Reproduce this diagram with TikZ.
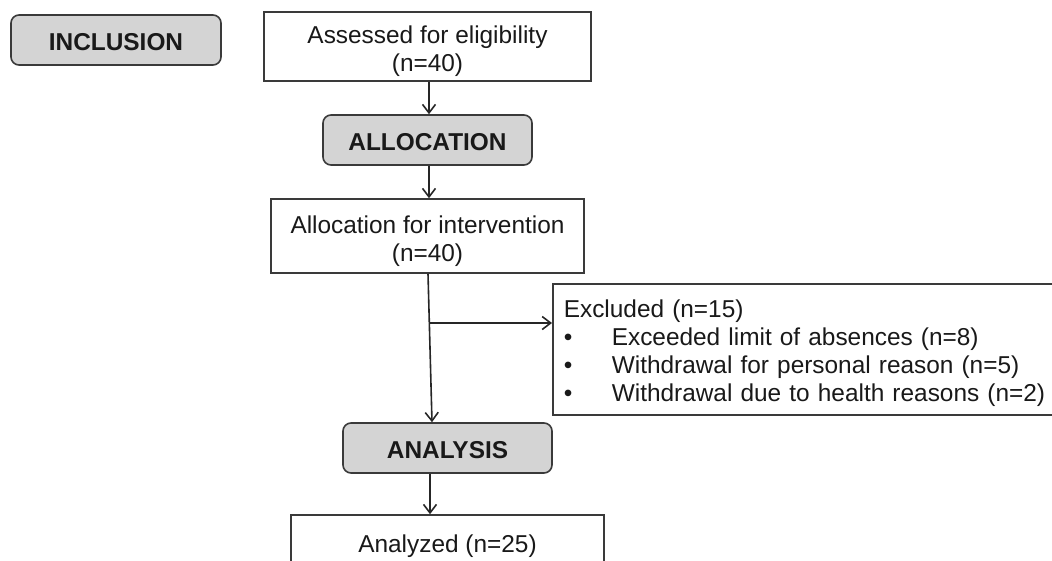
\documentclass[tikz,border=0pt]{standalone}
\usepackage{fontspec}
\setmainfont{Liberation Sans}
\usetikzlibrary{arrows.meta}
\definecolor{boxgray}{HTML}{D4D4D4}
\definecolor{edgegray}{HTML}{3A3A3A}
\newcommand{\topstrut}[1]{\rule{0pt}{#1}}
\begin{document}
\begin{tikzpicture}[x=1pt,y=-1pt,
  base/.style={draw=edgegray, line width=1.6pt, inner sep=0pt, align=center,
    font=\fontsize{24.4}{28}\selectfont, text=black!90},
  plainbox/.style={base, rectangle, fill=white},
  phase/.style={base, rounded corners=8pt, fill=boxgray,
    font=\fontsize{24.4}{28}\selectfont\bfseries},
  arr/.style={draw=black!85, line width=1.6pt,
    -{Straight Barb[length=8.5pt,width=13pt,line width=1.6pt]}}
]
\path[use as bounding box] (0,0) rectangle (1052,560);
\clip (0,0) rectangle (1052,560);

\node[phase, minimum width=210pt, minimum height=50pt] (incl) at (116,40)
  {\topstrut{20.5pt}INCLUSION};
\node[plainbox, minimum width=327pt, minimum height=69pt] (assess) at (427.5,46.5)
  {\topstrut{28pt}Assessed for eligibility\\(n=40)};
\node[phase, minimum width=209pt, minimum height=50pt] (alloc) at (427.5,140)
  {\topstrut{22pt}ALLOCATION};
\node[plainbox, minimum width=313pt, minimum height=74pt] (interv) at (427.5,236)
  {\topstrut{28pt}Allocation for intervention\\(n=40)};
\node[plainbox, anchor=north west, text width=500pt, inner xsep=11pt,
  minimum height=131pt, align=left] (excl) at (552,283)
  {\topstrut{26pt}Excluded (n=15)\\
   \makebox[48pt][l]{•}Exceeded limit of absences (n=8)\\
   \makebox[48pt][l]{•}Withdrawal for personal reason (n=5)\\
   \makebox[48pt][l]{•}Withdrawal due to health reasons (n=2)};
\node[phase, minimum width=209pt, minimum height=50pt] (analysis) at (447.5,448)
  {\topstrut{22pt}ANALYSIS};
\node[plainbox, minimum width=313pt, minimum height=52pt] (analyzed) at (447.5,541)
  {\topstrut{28pt}Analyzed (n=25)};

\draw[arr] ([xshift=1.5pt]assess.south) -- ([xshift=1.5pt]alloc.north);
\draw[arr] ([xshift=1.5pt]alloc.south) -- ([xshift=1.5pt]interv.north);
\draw[arr] ([xshift=0.5pt]interv.south) -- ([xshift=-15.5pt]analysis.north);
\coordinate (br) at (429.3,323);
\draw[arr] (br) -- (br -| excl.west);
\draw[arr] ([xshift=-17.5pt]analysis.south) -- ([xshift=-17.5pt]analyzed.north);
\end{tikzpicture}
\end{document}
